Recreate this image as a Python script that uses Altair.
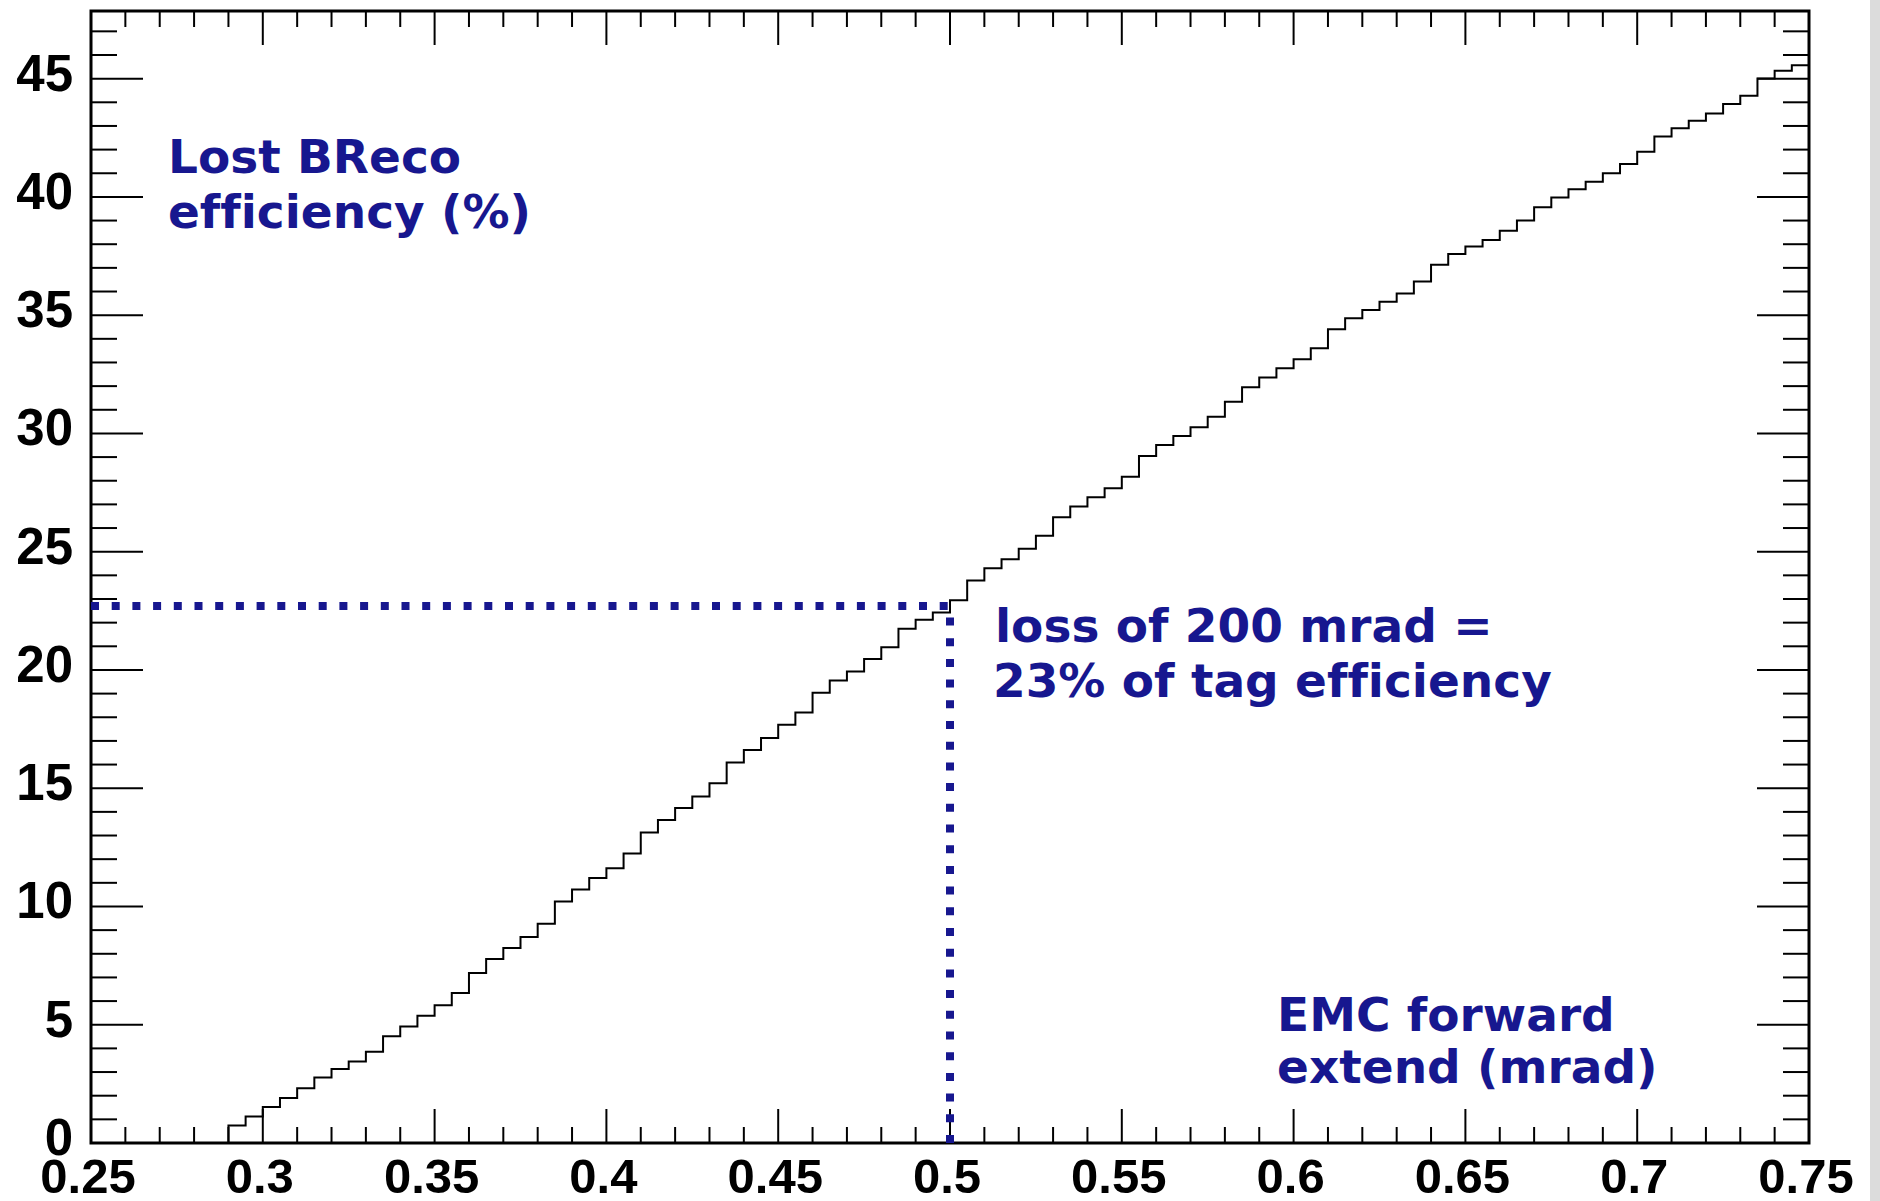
import altair as alt
import pandas as pd

# ---------------- data ----------------
BIN_START = 0.25
BIN_WIDTH = 0.005
# lost BReco efficiency (%) per 0.005 bin, from 0.25 to 0.75
lost_eff = [
    0, 0, 0, 0, 0, 0, 0, 0,
    0.74, 1.12, 1.52, 1.90, 2.32, 2.77, 3.13, 3.45, 3.86, 4.51,
    4.93, 5.38, 5.82, 6.34, 7.19, 7.78, 8.24, 8.71, 9.27, 10.21,
    10.72, 11.20, 11.62, 12.24, 13.13, 13.66, 14.16, 14.65, 15.21, 16.09,
    16.62, 17.12, 17.68, 18.20, 19.04, 19.55, 19.93, 20.46, 20.96, 21.74,
    22.12, 22.43, 22.95, 23.78, 24.30, 24.68, 25.12, 25.67, 26.46, 26.91,
    27.30, 27.68, 28.17, 29.05, 29.51, 29.89, 30.26, 30.71, 31.34, 31.95,
    32.36, 32.76, 33.14, 33.60, 34.40, 34.87, 35.22, 35.57, 35.92, 36.42,
    37.13, 37.59, 37.90, 38.18, 38.57, 39.00, 39.56, 39.98, 40.32, 40.64,
    41.00, 41.39, 41.91, 42.55, 42.90, 43.22, 43.53, 43.93, 44.28, 45.01,
    45.33, 45.57,
]

x_domain = [0.25, 0.75]
y_domain = [0, 47.86]
x_labels = [0.25, 0.3, 0.35, 0.4, 0.45, 0.5, 0.55, 0.6, 0.65, 0.7, 0.75]
x_label_text = ["0.25", "0.3", "0.35", "0.4", "0.45", "0.5", "0.55", "0.6",
                "0.65", "0.7", "0.75"]
y_labels = [0, 5, 10, 15, 20, 25, 30, 35, 40, 45]
y_label_text = ["0", "5", "10", "15", "20", "25", "30", "35", "40", "45"]
x_major_ticks = [0.3, 0.35, 0.4, 0.45, 0.5, 0.55, 0.6, 0.65, 0.7]
x_minor_ticks = [0.26, 0.27, 0.28, 0.29, 0.31, 0.32, 0.33, 0.34, 0.36, 0.37,
                 0.38, 0.39, 0.41, 0.42, 0.43, 0.44, 0.46, 0.47, 0.48, 0.49,
                 0.51, 0.52, 0.53, 0.54, 0.56, 0.57, 0.58, 0.59, 0.61, 0.62,
                 0.63, 0.64, 0.66, 0.67, 0.68, 0.69, 0.71, 0.72, 0.73, 0.74]
y_major_ticks = [5, 10, 15, 20, 25, 30, 35, 40, 45]
y_minor_ticks = [1, 2, 3, 4, 6, 7, 8, 9, 11, 12, 13, 14, 16, 17, 18, 19,
                 21, 22, 23, 24, 26, 27, 28, 29, 31, 32, 33, 34, 36, 37, 38,
                 39, 41, 42, 43, 44, 46, 47]

cut_x = 0.5
cut_y = 22.7

ZWNJ = "\u200c"  # keeps f / i as separate glyphs, as in the reference
ann_text = ["Lost BReco",
            "ef" + ZWNJ + "f" + ZWNJ + "iciency (%)",
            "loss of 200 mrad =",
            "23% of tag ef" + ZWNJ + "f" + ZWNJ + "iciency",
            "EMC forward",
            "extend (mrad)"]
ann_x = [0.2724, 0.2724, 0.5131, 0.5125, 0.5952, 0.5952]
ann_y = [41.0, 38.67, 21.2, 18.85, 4.75, 2.54]

# ---------------- layout ----------------
W, H = 1718, 1132
PAD = {"left": 91, "top": 11, "right": 71, "bottom": 58}
BLUE = "#17178f"

xs = alt.Scale(domain=x_domain, nice=False, zero=False)
ys = alt.Scale(domain=y_domain, nice=False, zero=False)

edges = [round(BIN_START + BIN_WIDTH * i, 3) for i in range(len(lost_eff) + 1)]
hist_df = pd.DataFrame({"x": edges, "y": lost_eff + [lost_eff[-1]]})

hist = alt.Chart(hist_df).mark_line(
    interpolate="step-after", color="black", strokeWidth=2
).encode(
    x=alt.X("x:Q", scale=xs, axis=None),
    y=alt.Y("y:Q", scale=ys, axis=None),
)

def xticks(vals, length):
    df = pd.DataFrame({"v": vals})
    bottom = alt.Chart(df).mark_rule(color="black", strokeWidth=2).encode(
        x=alt.X("v:Q", scale=xs, axis=None),
        y=alt.value(H), y2=alt.value(H - length))
    top = alt.Chart(df).mark_rule(color="black", strokeWidth=2).encode(
        x=alt.X("v:Q", scale=xs, axis=None),
        y=alt.value(0), y2=alt.value(length))
    return [bottom, top]

def yticks(vals, length):
    df = pd.DataFrame({"v": vals})
    left = alt.Chart(df).mark_rule(color="black", strokeWidth=2).encode(
        y=alt.Y("v:Q", scale=ys, axis=None),
        x=alt.value(0), x2=alt.value(length))
    right = alt.Chart(df).mark_rule(color="black", strokeWidth=2).encode(
        y=alt.Y("v:Q", scale=ys, axis=None),
        x=alt.value(W), x2=alt.value(W - length))
    return [left, right]

ticks = (xticks(x_major_ticks, 34) + xticks(x_minor_ticks, 16)
         + yticks(y_major_ticks, 52) + yticks(y_minor_ticks, 26))

xlab = alt.Chart(pd.DataFrame({"v": x_labels, "t": x_label_text})).mark_text(
    align="center", baseline="top", font="Liberation Sans", fontWeight="bold",
    fontSize=49, color="black", dx=-3
).encode(
    x=alt.X("v:Q", scale=xs, axis=None),
    y=alt.value(H + 11),
    text="t:N")

ylab = alt.Chart(pd.DataFrame({"v": y_labels, "t": y_label_text})).mark_text(
    align="right", baseline="middle", font="Liberation Sans", fontWeight="bold",
    fontSize=51, color="black", dy=-3
).encode(
    y=alt.Y("v:Q", scale=ys, axis=None),
    x=alt.value(-18),
    text="t:N")

hline = alt.Chart(pd.DataFrame({"x": [x_domain[0]], "x2": [cut_x], "y": [cut_y]})).mark_rule(
    color=BLUE, strokeWidth=8, strokeDash=[8, 12.7], strokeCap="butt"
).encode(
    x=alt.X("x:Q", scale=xs, axis=None), x2="x2:Q",
    y=alt.Y("y:Q", scale=ys, axis=None))

vline = alt.Chart(pd.DataFrame({"x": [cut_x], "y": [0], "y2": [cut_y]})).mark_rule(
    color=BLUE, strokeWidth=8, strokeDash=[8, 12.7], strokeCap="butt"
).encode(
    x=alt.X("x:Q", scale=xs, axis=None),
    y=alt.Y("y:Q", scale=ys, axis=None), y2="y2:Q")

ann = alt.Chart(pd.DataFrame({"x": ann_x, "y": ann_y, "t": ann_text})).mark_text(
    align="left", baseline="alphabetic", font="DejaVu Sans", fontWeight="bold",
    fontSize=47, color=BLUE
).encode(
    x=alt.X("x:Q", scale=xs, axis=None),
    y=alt.Y("y:Q", scale=ys, axis=None),
    text="t:N")

strip = alt.Chart(pd.DataFrame({"a": [0]})).mark_rect(color="#dcdcdc").encode(
    x=alt.value(W + 61), x2=alt.value(W + 71),
    y=alt.value(-11), y2=alt.value(H + 58))

chart = alt.layer(
    strip, *ticks, hist, hline, vline, ann, xlab, ylab
).properties(
    width=W, height=H, padding=PAD,
    autosize=alt.AutoSizeParams(type="none"),
    background="white",
).configure_view(
    stroke="black", strokeWidth=3, fill="white"
)

chart.save("out.html", embed_options={"renderer": "svg", "actions": False})
